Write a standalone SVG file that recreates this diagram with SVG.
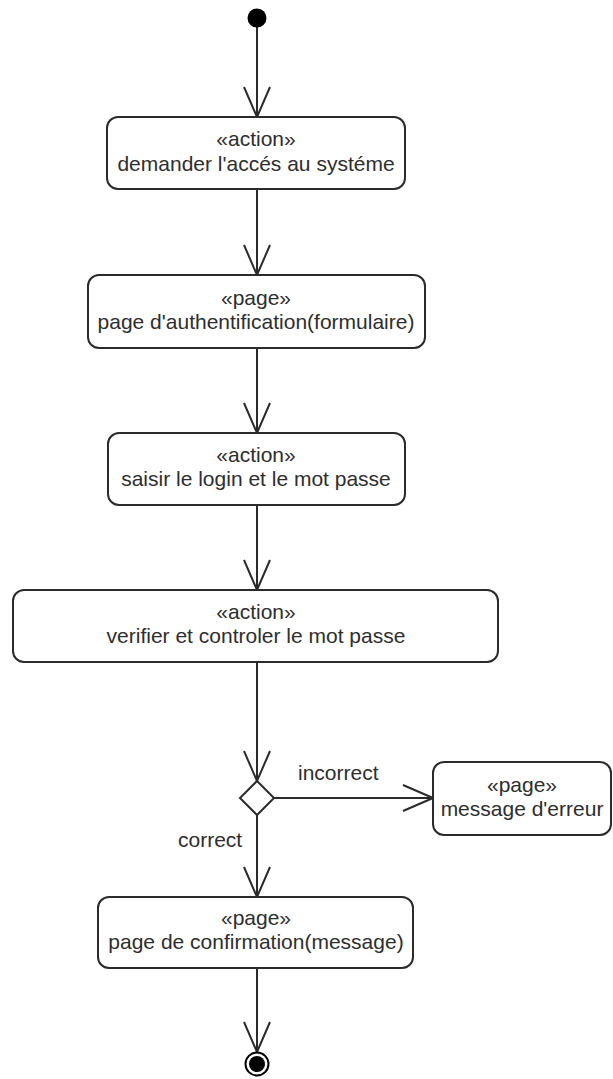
<svg xmlns="http://www.w3.org/2000/svg" width="613" height="1079" viewBox="0 0 613 1079">
  <defs>
    <style>
      .node { fill: #ffffff; stroke: #2b2b2b; stroke-width: 2; }
      .label { font-family: "Liberation Sans", Arial, sans-serif; font-size: 21px; fill: #2e2e2e; text-anchor: middle; }
      .guard { font-family: "Liberation Sans", Arial, sans-serif; font-size: 21px; fill: #2e2e2e; }
      .flow { fill: none; stroke: #2b2b2b; stroke-width: 2; }
    </style>
    <marker id="open-arrow" viewBox="0 0 32 28" refX="31" refY="14" markerWidth="32" markerHeight="28" markerUnits="userSpaceOnUse" orient="auto">
      <path d="M1,1 L31,14 L1,27" fill="none" stroke="#2b2b2b" stroke-width="2"/>
    </marker>
  </defs>

  <rect width="613" height="1079" fill="#ffffff"/>

  <!-- control flows -->
  <g id="flows">
    <line class="flow" x1="257" y1="27" x2="257" y2="117" marker-end="url(#open-arrow)"/>
    <line class="flow" x1="257" y1="189" x2="257" y2="275" marker-end="url(#open-arrow)"/>
    <line class="flow" x1="257" y1="348" x2="257" y2="433" marker-end="url(#open-arrow)"/>
    <line class="flow" x1="257" y1="505" x2="257" y2="590" marker-end="url(#open-arrow)"/>
    <line class="flow" x1="257" y1="662" x2="257" y2="781" marker-end="url(#open-arrow)"/>
    <line class="flow" x1="274" y1="798" x2="433" y2="798" marker-end="url(#open-arrow)"/>
    <line class="flow" x1="257" y1="815" x2="257" y2="897" marker-end="url(#open-arrow)"/>
    <line class="flow" x1="257" y1="968" x2="257" y2="1052" marker-end="url(#open-arrow)"/>
    <text class="guard" x="298" y="780">incorrect</text>
    <text class="guard" x="178" y="847">correct</text>
  </g>

  <!-- initial node -->
  <g id="start">
    <circle cx="257" cy="18" r="9.5" fill="#000000"/>
  </g>

  <g id="demander-acces">
    <rect class="node" x="107" y="117" width="298" height="72" rx="11"/>
    <text class="label" x="256" y="146">«action»</text>
    <text class="label" x="256" y="171">demander l'accés au systéme</text>
  </g>

  <g id="page-authentification">
    <rect class="node" x="88" y="275" width="337" height="73" rx="11"/>
    <text class="label" x="256" y="305">«page»</text>
    <text class="label" x="256" y="329">page d'authentification(formulaire)</text>
  </g>

  <g id="saisir-login">
    <rect class="node" x="108" y="433" width="297" height="72" rx="11"/>
    <text class="label" x="256" y="462">«action»</text>
    <text class="label" x="256" y="486">saisir le login et le mot passe</text>
  </g>

  <g id="verifier-mot-passe">
    <rect class="node" x="13" y="590" width="485" height="72" rx="11"/>
    <text class="label" x="256" y="619">«action»</text>
    <text class="label" x="256" y="643">verifier et controler le mot passe</text>
  </g>

  <!-- decision -->
  <g id="decision">
    <polygon class="node" points="257,781 274,798 257,815 240,798"/>
  </g>

  <g id="message-erreur">
    <rect class="node" x="433" y="762" width="178" height="73" rx="11"/>
    <text class="label" x="522" y="792">«page»</text>
    <text class="label" x="522" y="816">message d'erreur</text>
  </g>

  <g id="page-confirmation">
    <rect class="node" x="98" y="897" width="315" height="71" rx="11"/>
    <text class="label" x="256" y="925">«page»</text>
    <text class="label" x="256" y="949">page de confirmation(message)</text>
  </g>

  <!-- final node -->
  <g id="end">
    <circle cx="257" cy="1064" r="11.5" fill="#ffffff" stroke="#000000" stroke-width="2"/>
    <circle cx="257" cy="1064" r="8" fill="#000000"/>
  </g>
</svg>
